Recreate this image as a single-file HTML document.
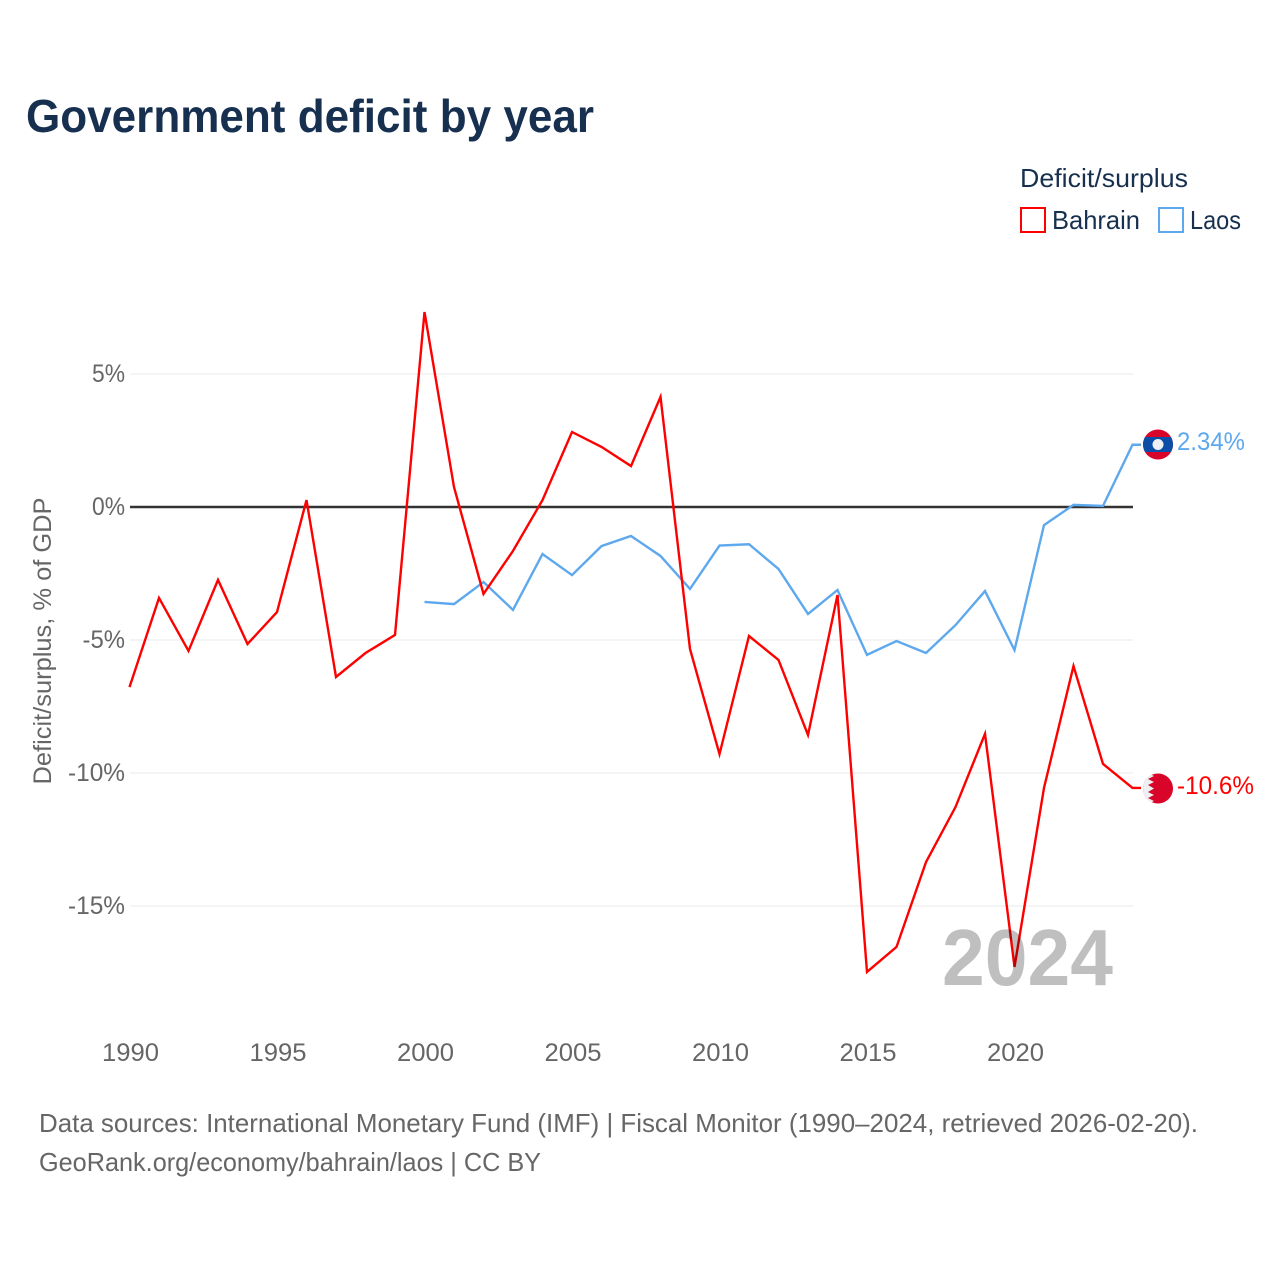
<!DOCTYPE html>
<html>
<head>
<meta charset="utf-8">
<title>Government deficit by year</title>
<style>
html,body{margin:0;padding:0;background:#fff;}
svg{display:block;font-family:"Liberation Sans",sans-serif;}
</style>
</head>
<body>
<svg id="chart" xmlns="http://www.w3.org/2000/svg" width="1280" height="1280" viewBox="0 0 1280 1280">
  <defs>
    <clipPath id="laos-clip"><circle cx="1158" cy="444.5" r="15"/></clipPath>
    <clipPath id="bahrain-clip"><circle cx="1158" cy="788.5" r="15"/></clipPath>
  </defs>
  <rect width="1280" height="1280" fill="#fff"/>
  <text x="26" y="132" font-size="46" font-weight="700" fill="#17304f" textLength="568" lengthAdjust="spacingAndGlyphs">Government deficit by year</text>

  <g>
    <text x="1020" y="187" font-size="26" fill="#17304f" textLength="168" lengthAdjust="spacingAndGlyphs">Deficit/surplus</text>
    <rect x="1021" y="208" width="24" height="24" fill="none" stroke="#ff0000" stroke-width="2"/>
    <text x="1052" y="229" font-size="26" fill="#17304f" textLength="88" lengthAdjust="spacingAndGlyphs">Bahrain</text>
    <rect x="1159" y="208" width="24" height="24" fill="none" stroke="#5ea8ee" stroke-width="2"/>
    <text x="1190" y="229" font-size="26" fill="#17304f" textLength="51" lengthAdjust="spacingAndGlyphs">Laos</text>
  </g>

  <text transform="translate(51 641) rotate(-90)" text-anchor="middle" font-size="25" fill="#666" textLength="287" lengthAdjust="spacingAndGlyphs">Deficit/surplus, % of GDP</text>

  <g id="grid"></g>
  <g id="yticks"></g>
  <g id="xticks"></g>
  <g id="series"></g>

  <text x="942" y="985" font-size="80" font-weight="700" fill="#000" fill-opacity="0.25" textLength="171" lengthAdjust="spacingAndGlyphs">2024</text>

  <g id="laos-flag" clip-path="url(#laos-clip)">
    <rect x="1143" y="429" width="30" height="31" fill="#d90429"/>
    <rect x="1143" y="437" width="30" height="15" fill="#0a4ea8"/>
    <circle cx="1158" cy="444.5" r="5.5" fill="#eef0f4"/>
  </g>
  <text id="laos-end" x="1177" y="450" font-size="25" fill="#5ea8ee" textLength="68" lengthAdjust="spacingAndGlyphs">2.34%</text>

  <g id="bahrain-flag" clip-path="url(#bahrain-clip)">
    <rect x="1143" y="773" width="30" height="31" fill="#d90429"/>
    <polygon fill="#eef0f4" points="1143,773 1148,773 1154,776 1148,779 1154,782 1148,785 1154,788.5 1148,792 1154,795 1148,798 1154,801 1148,804 1143,804"/>
  </g>
  <text id="bahrain-end" x="1177" y="794" font-size="25" fill="#ff0000" textLength="77" lengthAdjust="spacingAndGlyphs">-10.6%</text>

  <text x="39" y="1132" font-size="26" fill="#666" textLength="1159" lengthAdjust="spacingAndGlyphs">Data sources: International Monetary Fund (IMF) | Fiscal Monitor (1990–2024, retrieved 2026-02-20).</text>
  <text x="39" y="1171" font-size="26" fill="#666" textLength="502" lengthAdjust="spacingAndGlyphs">GeoRank.org/economy/bahrain/laos | CC BY</text>
</svg>
<script>
const years = [1990,1991,1992,1993,1994,1995,1996,1997,1998,1999,2000,2001,2002,2003,2004,2005,2006,2007,2008,2009,2010,2011,2012,2013,2014,2015,2016,2017,2018,2019,2020,2021,2022,2023,2024];
const bahrainValues = [-6.77,-3.42,-5.41,-2.74,-5.15,-3.95,0.26,-6.39,-5.49,-4.81,7.33,0.75,-3.27,-1.65,0.26,2.82,2.26,1.54,4.14,-5.34,-9.29,-4.85,-5.75,-8.57,-3.31,-17.48,-16.54,-13.35,-11.28,-8.53,-17.29,-10.56,-5.98,-9.66,-10.56];
const laosValues = [null,null,null,null,null,null,null,null,null,null,-3.57,-3.65,-2.82,-3.87,-1.77,-2.56,-1.47,-1.09,-1.84,-3.08,-1.45,-1.4,-2.33,-4.02,-3.12,-5.56,-5.04,-5.49,-4.44,-3.16,-5.38,-0.68,0.08,0.04,2.34];
const yTickValues = [5,0,-5,-10,-15];
const yTickLabels = ["5%","0%","-5%","-10%","-15%"];
const xTickValues = [1990,1995,2000,2005,2010,2015,2020];
const xTickLabels = ["1990","1995","2000","2005","2010","2015","2020"];

const NS = "http://www.w3.org/2000/svg";
const xScale = function (year) { return 129.5 + (year - 1990) * 29.5; };
const yScale = function (value) { return 507 - value * 26.6; };
const make = function (parent, tag, props) {
  const el = document.createElementNS(NS, tag);
  for (const k in props) { el.setAttribute(k, props[k]); }
  parent.appendChild(el);
  return el;
};
const grid = document.getElementById("grid");
const yticks = document.getElementById("yticks");
const xticks = document.getElementById("xticks");
const series = document.getElementById("series");

yTickValues.forEach(function (v, i) {
  if (v === 0) { return; }
  const line = make(grid, "line", {x1: 130, x2: 1133, y1: yScale(v), y2: yScale(v), stroke: "#e8e8e8", "stroke-width": 1});
  
  
});
yTickValues.forEach(function (v, i) {
  const text = yTickLabels[i];
  const digitCount = text.replace(/\D/g, "").length;
  const hyphenWidth = text.charAt(0) === "-" ? 9.5 : 0;
  const label = make(yticks, "text", {x: 125, y: yScale(v) + 8, "text-anchor": "end", "font-size": 25, fill: "#666", textLength: digitCount * 14.5 + 18.5 + hyphenWidth, lengthAdjust: "spacingAndGlyphs"});
  label.textContent = text;
  
  
});
xTickValues.forEach(function (v, i) {
  const label = make(xticks, "text", {x: xScale(v) + 1, y: 1061, "text-anchor": "middle", "font-size": 25, fill: "#666", textLength: 57, lengthAdjust: "spacingAndGlyphs"});
  label.textContent = xTickLabels[i];
  
  
});
const zero = make(series, "line", {x1: 130, x2: 1133, y1: yScale(0), y2: yScale(0), stroke: "#333", "stroke-width": 2.5});


const drawLine = function (values, color, name, width) {
  let d = "";
  let lastY = null;
  values.forEach(function (v, i) {
    if (v === null) { return; }
    d += (d ? "L" : "M") + xScale(years[i]) + " " + yScale(v);
    lastY = yScale(v);
  });
  d += "L1141 " + lastY;
  const path = make(series, "path", {d: d, fill: "none", stroke: color, "stroke-width": width, "stroke-linejoin": "miter"});
  
  
};
drawLine(laosValues, "#5ea8ee", "laos-line", 2.4);
drawLine(bahrainValues, "#ff0000", "bahrain-line", 2.4);
</script>
</body>
</html>
